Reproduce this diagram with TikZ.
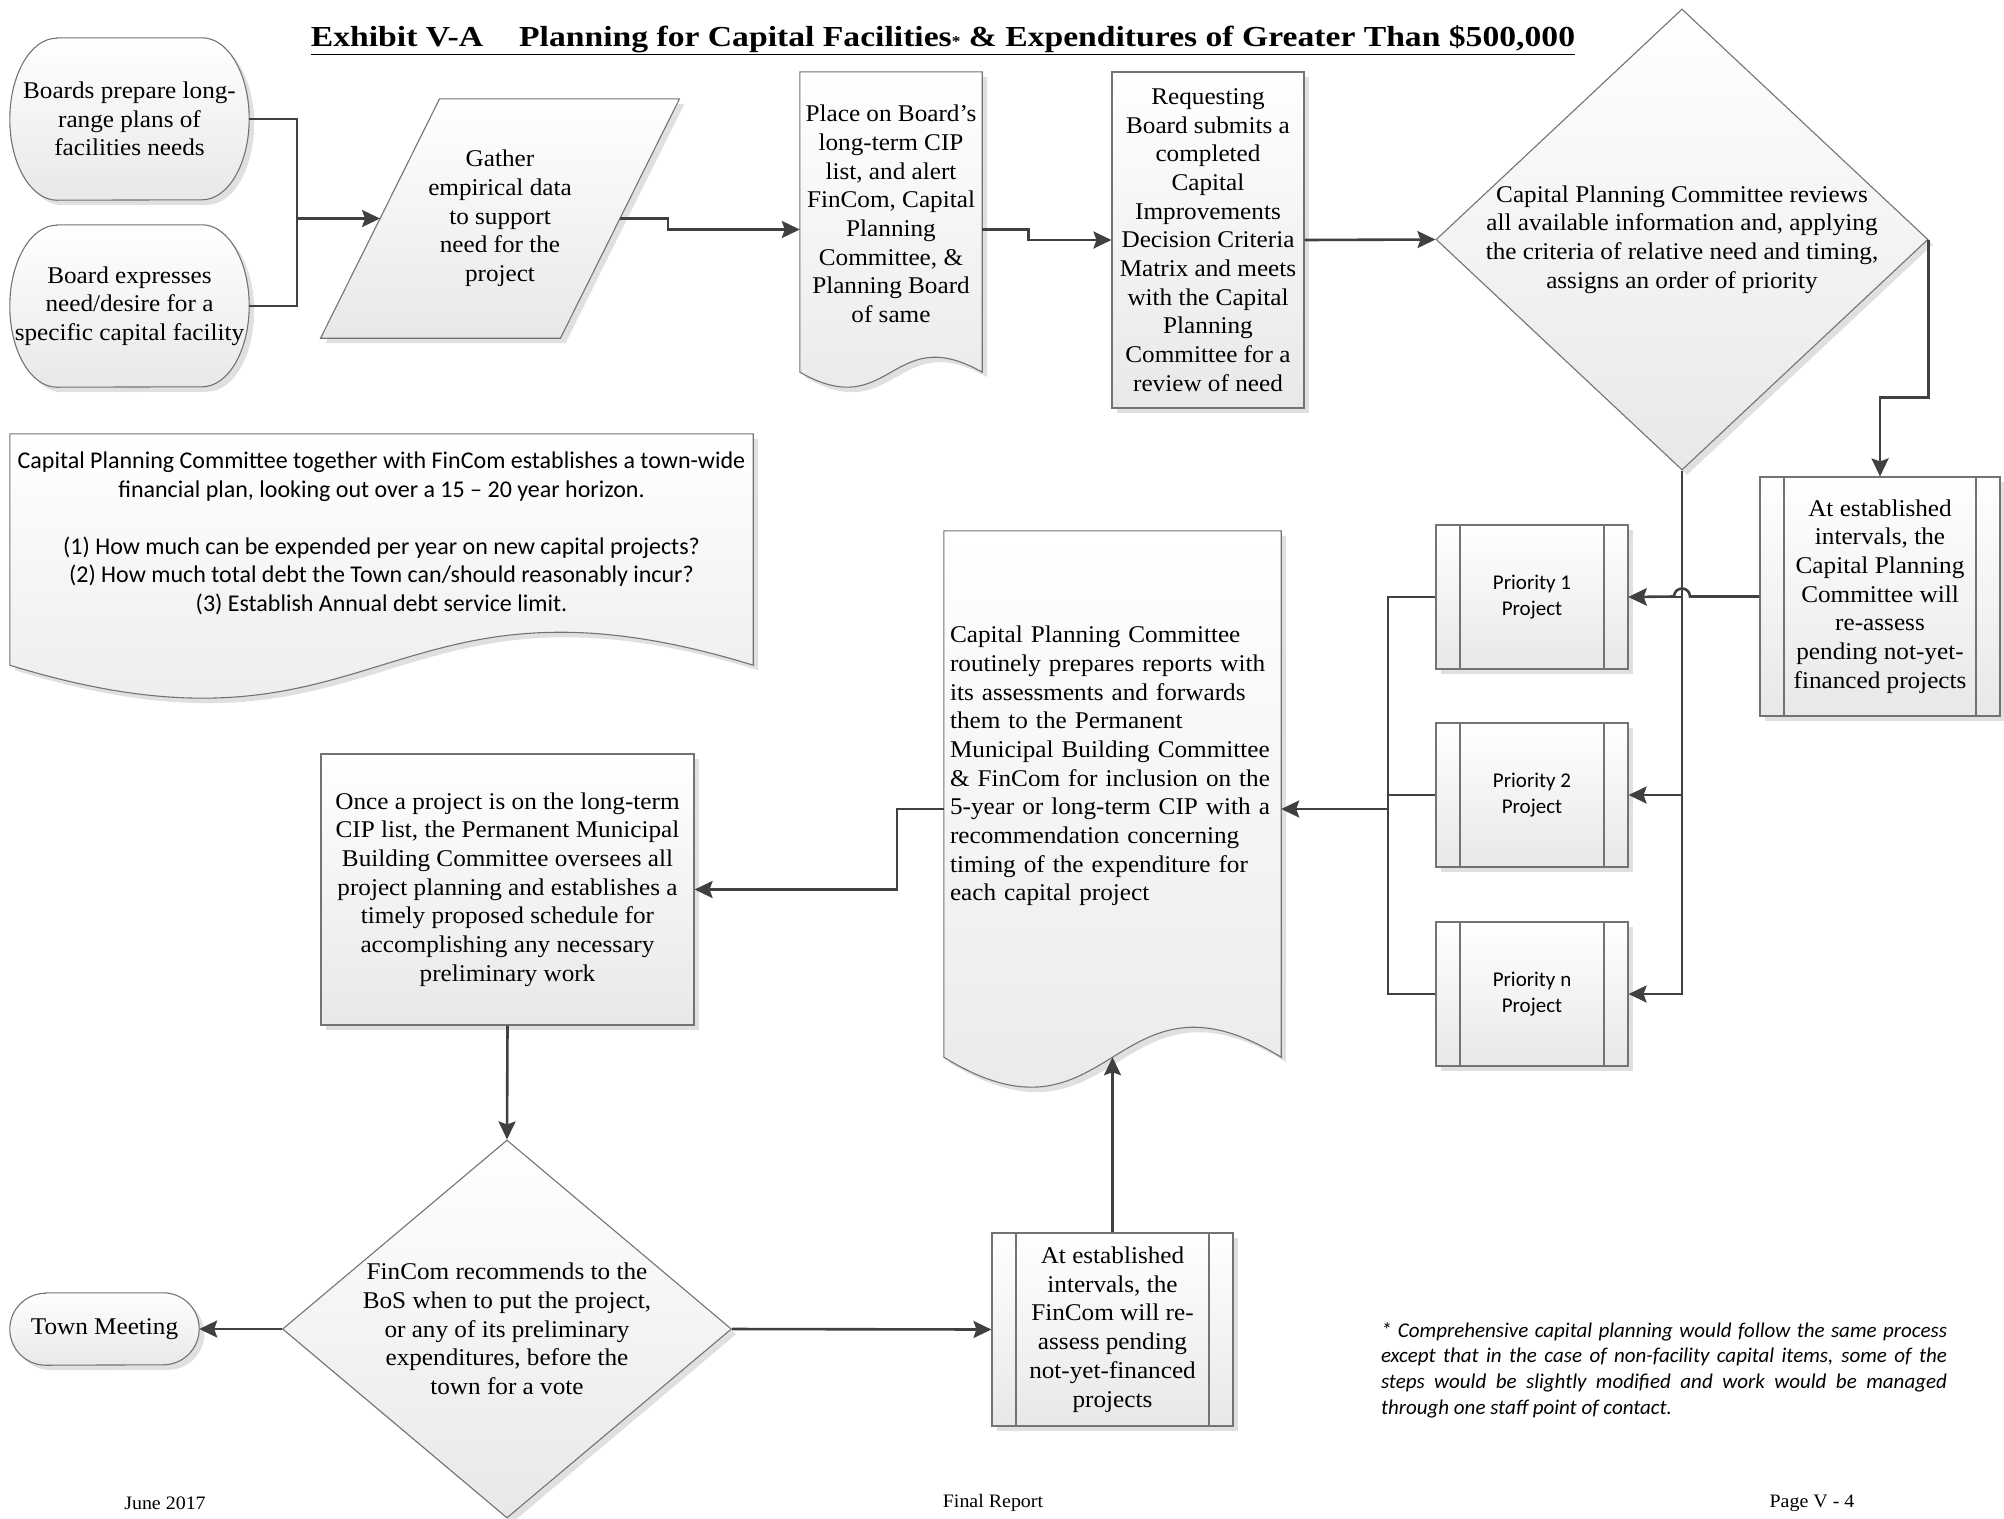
\documentclass[tikz,border=0pt]{standalone}
\usepackage{fontspec}
\setmainfont{Liberation Serif}[FakeStretch=1.05]
\newfontfamily\calibri{Carlito}
\newfontfamily\titlefam{Liberation Serif}[FakeStretch=1.16]
\usetikzlibrary{shapes.geometric,shadows,backgrounds,arrows.meta,calc}
\newcommand{\boxfont}{\fontsize{24}{28.7}\selectfont}
\newcommand{\titlefont}{\titlefam\bfseries\fontsize{29}{34}\selectfont}
\newcommand{\priofont}{\calibri\fontsize{21}{26}\selectfont}
\newcommand{\planfont}{\calibri\fontsize{24}{28.7}\selectfont}
\newcommand{\footfont}{\fontsize{19}{22}\selectfont}
\newcommand{\docshape}[2]{\path[outline,boxfill,shadowed] (#1.north west) -- (#1.north east) -- ([yshift=#2]#1.south east) .. controls ([yshift=4.46*#2]#1.south) and ([yshift=-2.46*#2]#1.south) .. ([yshift=#2]#1.south west) -- cycle;}
\newcommand{\termshape}[3]{\path[outline,boxfill,shadowed] ([xshift=#2]#1.north west) -- ([xshift=-#2]#1.north east) arc[start angle=90,end angle=-90,x radius=#2,y radius=#3] -- ([xshift=#2]#1.south west) arc[start angle=270,end angle=90,x radius=#2,y radius=#3] -- cycle;}
\newcommand{\ioshape}[2]{\path[outline,boxfill,shadowed] ([xshift=#2]#1.north west) -- ([xshift=#2]#1.north east) -- ([xshift=-#2]#1.south east) -- ([xshift=-#2]#1.south west) -- cycle;}
\tikzset{
 outline/.style={draw=black!55, line width=1.1pt},
 boxfill/.style={top color=white, bottom color=black!9},
 shadowed/.style={drop shadow={shadow xshift=5pt, shadow yshift=-5pt, fill=black, opacity=.12}},
 words/.style={align=center, inner sep=0pt, font=\boxfont},
 box/.style={words, rectangle, outline, boxfill, shadowed, inner sep=2pt},
 process/.style={box, path picture={
  \draw[outline] ([xshift=24pt]path picture bounding box.north west) -- ([xshift=24pt]path picture bounding box.south west)
   ([xshift=-24pt]path picture bounding box.north east) -- ([xshift=-24pt]path picture bounding box.south east);}},
 decision/.style={diamond, outline, boxfill, shadowed, inner sep=0pt},
 wire/.style={draw=black!75, line width=2.6pt},
 conn/.style={wire, -{Stealth[length=18pt,width=17pt,inset=3pt]}}
}

\begin{document}
\begin{tikzpicture}[x=1pt, y=-1pt]
\useasboundingbox (0,0) rectangle (2004,1518);

\node[font=\titlefont, inner sep=0pt] (title) at (943,40) {\underline{Exhibit V-A\hspace{36pt}Planning for Capital Facilities{\fontsize{15}{15}\selectfont*} \& Expenditures of Greater Than \$500,000}};

\node[words, minimum width=239pt, minimum height=162pt] (board1) at (129.5,119) {Boards prepare long-\\range plans of\\facilities needs};
\node[words, minimum width=239pt, minimum height=162pt] (board2) at (129.5,306) {Board expresses\\need/desire for a\\specific capital facility};
\node[words, minimum width=239.5pt, minimum height=239pt] (gather) at (500,218.5) {Gather\\empirical data\\to support\\need for the\\project};
\node[words, minimum width=182pt, minimum height=315pt] (place) at (891,229.5) {};
\node[words] (place-t) at (891,214) {Place on Board’s\\long-term CIP\\list, and alert\\FinCom, Capital\\Planning\\Committee, \&\\Planning Board\\of same};
\node[box, minimum width=192pt, minimum height=336pt] (req) at (1208,240) {Requesting\\Board submits a\\completed\\Capital\\Improvements\\Decision Criteria\\Matrix and meets\\with the Capital\\Planning\\Committee for a\\review of need};
\node[decision, minimum width=492pt, minimum height=461pt] (cpcdec) at (1682,239.5) {};
\node[words] (cpcdec-t) at (cpcdec) {Capital Planning Committee reviews\\all available information and, applying\\the criteria of relative need and timing,\\assigns an order of priority};
\node[process, minimum width=240pt, minimum height=239pt] (reassess) at (1880,596.5) {At established\\intervals, the\\Capital Planning\\Committee will\\re-assess\\pending not-yet-\\financed projects};
\foreach \n/\y/\lab in {p1/597/1, p2/795/2, pn/994/n}
 \node[process, font=\priofont, minimum width=192pt, minimum height=144pt] (\n) at (1532,\y) {Priority \lab\\Project};
\node[words, minimum width=337pt, minimum height=556pt] (review) at (1112.5,809) {};
\node[words, align=left, text width=325pt] (review-t) at (1112.5,766) {Capital Planning Committee\\routinely prepares reports with\\its assessments and forwards\\them to the Permanent\\Municipal Building Committee\\\& FinCom for inclusion on the\\5-year or long-term CIP with a\\recommendation concerning\\timing of the expenditure for\\each capital project};
\node[box, minimum width=373pt, minimum height=271pt] (once) at (507.5,889.5) {Once a project is on the long-term\\CIP list, the Permanent Municipal\\Building Committee oversees all\\project planning and establishes a\\timely proposed schedule for\\accomplishing any necessary\\preliminary work};
\node[decision, minimum width=449pt, minimum height=378pt] (fincomdec) at (507,1329) {};
\node[words] (fincomdec-t) at (fincomdec) {FinCom recommends to the\\BoS when to put the project,\\or any of its preliminary\\expenditures, before the\\town for a vote};
\node[words, minimum width=189pt, minimum height=72pt] (town) at (104.5,1329) {Town Meeting};
\node[process, minimum width=241pt, minimum height=193pt] (fcbox) at (1112.5,1329.5) {At established\\intervals, the\\FinCom will re-\\assess pending\\not-yet-financed\\projects};
\node[words, minimum width=743pt, minimum height=264pt] (plan) at (381.5,566) {};
\node[words, font=\planfont] (plan-t) at (381.5,533.5) {Capital Planning Committee together with FinCom establishes a town-wide\\financial plan, looking out over a 15 – 20 year horizon.\\[28pt](1) How much can be expended per year on new capital projects?\\(2) How much total debt the Town can/should reasonably incur?\\(3) Establish Annual debt service limit.};

\node[font=\calibri\itshape\fontsize{21}{25.6}\selectfont, text width=566pt, align=justify, inner sep=0pt] (note) at (1664,1370) {* Comprehensive capital planning would follow the same process\linebreak except that in the case of non-facility capital items, some of the\linebreak steps would be slightly modified and work would be managed\linebreak through one staff point of contact.};
\node[font=\footfont, inner sep=0pt] (date) at (165,1503) {June 2017};
\node[font=\footfont, inner sep=0pt] (report) at (993,1503) {Final Report};
\node[font=\footfont, inner sep=0pt] (page) at (1812,1503) {Page V - 4};

\begin{scope}[on background layer]
\termshape{board1}{47pt}{81pt}
\termshape{board2}{47pt}{81pt}
\termshape{town}{36pt}{36pt}
\ioshape{gather}{59.5pt}
\docshape{place}{15pt}
\docshape{review}{30pt}
\docshape{plan}{33pt}
\end{scope}

\coordinate (join) at (297,218.5);
\coordinate (pbus) at (1388,809);
\draw[wire] (board1.east) -| (join) |- (board2.east);
\draw[conn] (join) -- (gather.west);
\draw[conn] (gather.east) -- ++(48,0) |- (place.west);
\draw[conn] (place.east) -- ++(46,0) |- (req.west);
\draw[conn] (req.east) -- (cpcdec.west);
\draw[conn] (cpcdec.east) -- ++(0,158) -| (reassess.north);
\foreach \n in {p1,p2,pn} \draw[conn] (cpcdec.south) |- (\n.east);
\draw[conn] (reassess.west) -- ($(cpcdec.south |- reassess.west)+(8,0)$) arc[start angle=0,end angle=180,radius=8pt] -- (p1.east);
\foreach \n in {p1,p2,pn} \draw[wire] (\n.west) -| (pbus);
\draw[conn] (pbus) -- (review.east);
\draw[conn] (review.west) -- ++(-47,0) |- (once.east);
\draw[conn] (once.south) -- (fincomdec.north);
\draw[conn] (fincomdec.west) -- (town.east);
\draw[conn] (fincomdec.east) -- (fcbox.west);
\draw[conn] (fcbox.north) -- ([yshift=30pt]review.south);
\end{tikzpicture}
\end{document}
